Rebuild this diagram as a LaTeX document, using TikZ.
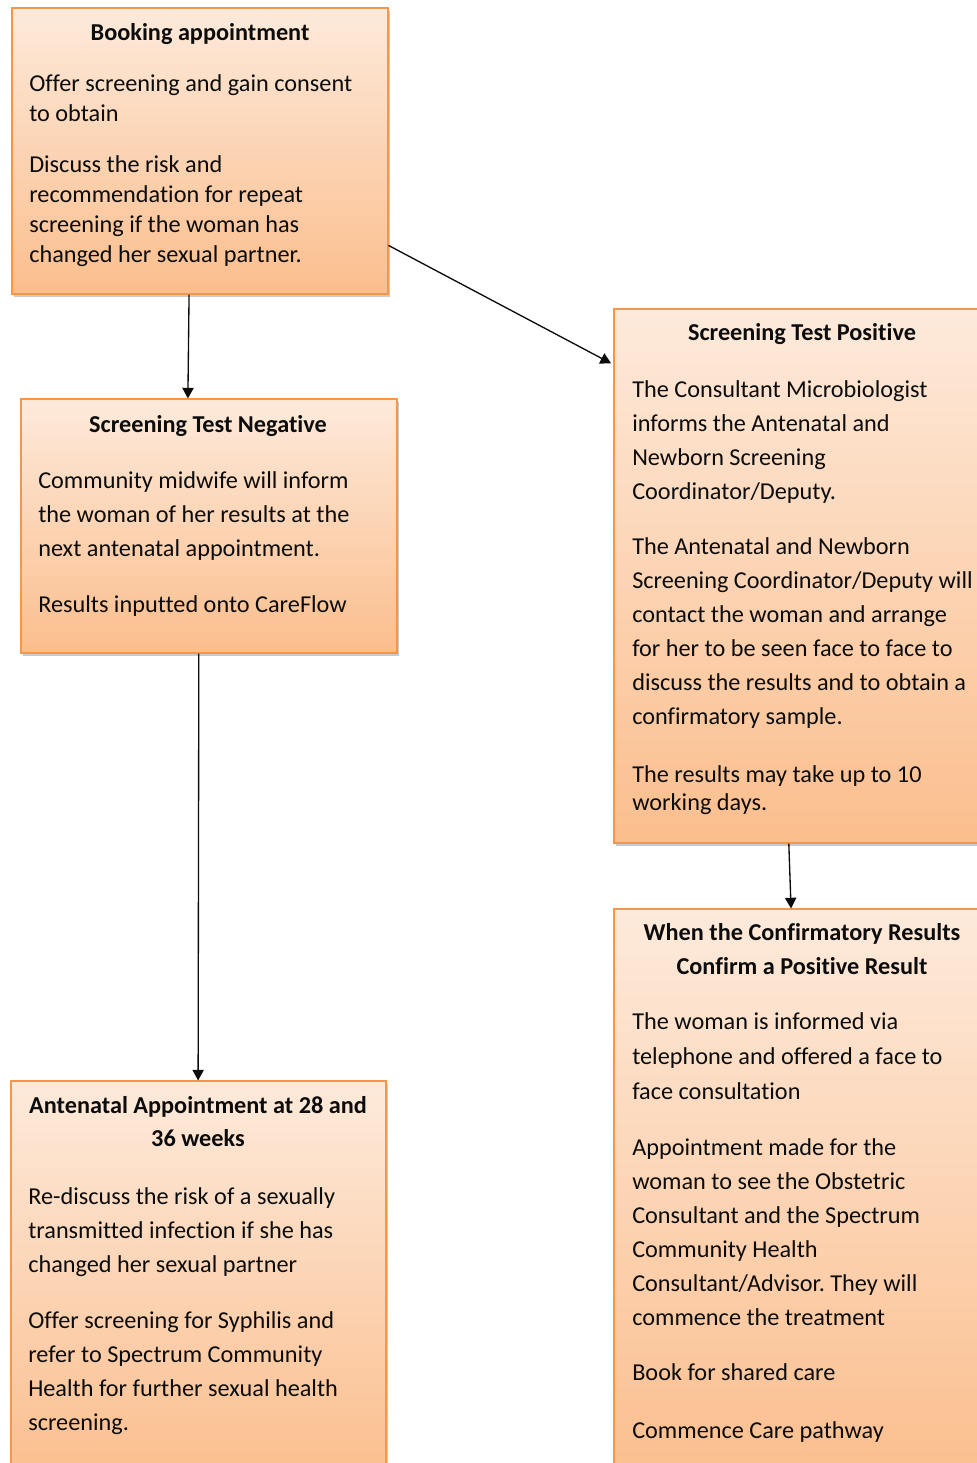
\documentclass[tikz,border=0pt]{standalone}
\usepackage{fontspec}
\setmainfont{Carlito}[Ligatures=NoCommon]
\usetikzlibrary{arrows.meta,calc,fit,shadows}
\definecolor{boxtop}{RGB}{253,234,219}
\definecolor{boxbot}{RGB}{251,190,141}
\definecolor{boxline}{RGB}{247,150,70}
\definecolor{ink}{RGB}{12,12,12}
\tikzset{
  flowbox/.style={draw=boxline, line width=0.8pt, top color=boxtop, bottom color=boxbot,
    inner sep=0pt, drop shadow={shadow xshift=1.5pt, shadow yshift=-2pt, opacity=0.35, fill=black!60}},
  body/.style={anchor=base west, inner sep=0pt, font=\fontsize{18.2}{21}\selectfont, text=ink},
  head/.style={anchor=base, inner sep=0pt, font=\fontsize{18.2}{21}\selectfont\bfseries, text=ink},
  link/.style={draw=ink, line width=1pt, -{Triangle[width=8.5pt,length=8pt]}},
}
\frenchspacing
% one paragraph of left-aligned lines: name, x, first baseline, line step, lines
\newcommand\paragraphlines[5]{%
  \foreach \t [count=\i from 0] in {#5}
    \node[body] (#1-\i) at (#2,{#3+#4*\i}) {\t};}

\begin{document}
\begin{tikzpicture}[x=0.75pt,y=-0.75pt]
\useasboundingbox (0,0) rectangle (977,1463);
\clip (0,0) rectangle (977,1463);

% boxes
\node[flowbox, fit={(12,8) (388,294)}] (b1) {};
\node[flowbox, fit={(21,399) (397,653)}] (b2) {};
\node[flowbox, fit={(614,309) (990,843)}] (b3) {};
\node[flowbox, fit={(11,1081) (386,1485)}] (b4) {};
\node[flowbox, fit={(614,909) (990,1485)}] (b5) {};

% booking appointment
\node[head] (h1) at (200,41) {Booking appointment};
\paragraphlines{bk1}{29}{92}{30}{Offer screening and gain consent, to obtain}
\paragraphlines{bk2}{29}{172}{30}{Discuss the risk and, recommendation for repeat, screening if the woman has, changed her sexual partner.}

% negative result
\node[head] (h2) at (208,432) {Screening Test Negative};
\paragraphlines{ng1}{38}{488}{34}{Community midwife will inform, the woman of her results at the, next antenatal appointment.}
\paragraphlines{ng2}{38}{612}{34}{Results inputted onto CareFlow}

% positive result
\node[head] (h3) at (802,340) {Screening Test Positive};
\paragraphlines{ps1}{632}{397}{34}{The Consultant Microbiologist, informs the Antenatal and, Newborn Screening, Coordinator/Deputy.}
\paragraphlines{ps2}{632}{554}{34}{The Antenatal and Newborn, Screening Coordinator/Deputy will, contact the woman and arrange, for her to be seen face to face to, discuss the results and to obtain a, confirmatory sample.}
\paragraphlines{ps3}{632}{782}{28}{The results may take up to 10, working days.}

% 28 and 36 weeks
\node[head] (h4a) at (198,1113) {Antenatal Appointment at 28 and};
\node[head] (h4b) at (198,1146) {36 weeks};
\paragraphlines{an1}{28}{1204}{34}{Re-discuss the risk of a sexually, transmitted infection if she has, changed her sexual partner}
\paragraphlines{an2}{28}{1328}{34}{Offer screening for Syphilis and, refer to Spectrum Community, Health for further sexual health, screening.}

% confirmed positive
\node[head] (h5a) at (802,940) {When the Confirmatory Results};
\node[head] (h5b) at (802,974) {Confirm a Positive Result};
\paragraphlines{cf1}{632}{1029}{35}{The woman is informed via, telephone and offered a face to, face consultation}
\paragraphlines{cf2}{632}{1155}{34}{Appointment made for the, woman to see the Obstetric, Consultant and the Spectrum, Community Health, Consultant/Advisor. They will, commence the treatment}
\paragraphlines{cf3}{632}{1380}{34}{Book for shared care}
\paragraphlines{cf4}{632}{1438}{34}{Commence Care pathway}

% connectors
\draw[link] ($(b1.south west)!0.471!(b1.south east)$) -- ($(b2.north west)!0.444!(b2.north east)$);
\draw[link, shorten >=2pt] ($(b1.north east)!0.829!(b1.south east)$) -- ($(b3.north west)!0.105!(b3.south west)$);
\draw[link] ($(b2.south west)!0.473!(b2.south east)$) -- ($(b4.north west)!0.499!(b4.north east)$);
\draw[link] ($(b3.south west)!0.465!(b3.south east)$) -- ($(b5.north west)!0.471!(b5.north east)$);
\end{tikzpicture}
\end{document}
